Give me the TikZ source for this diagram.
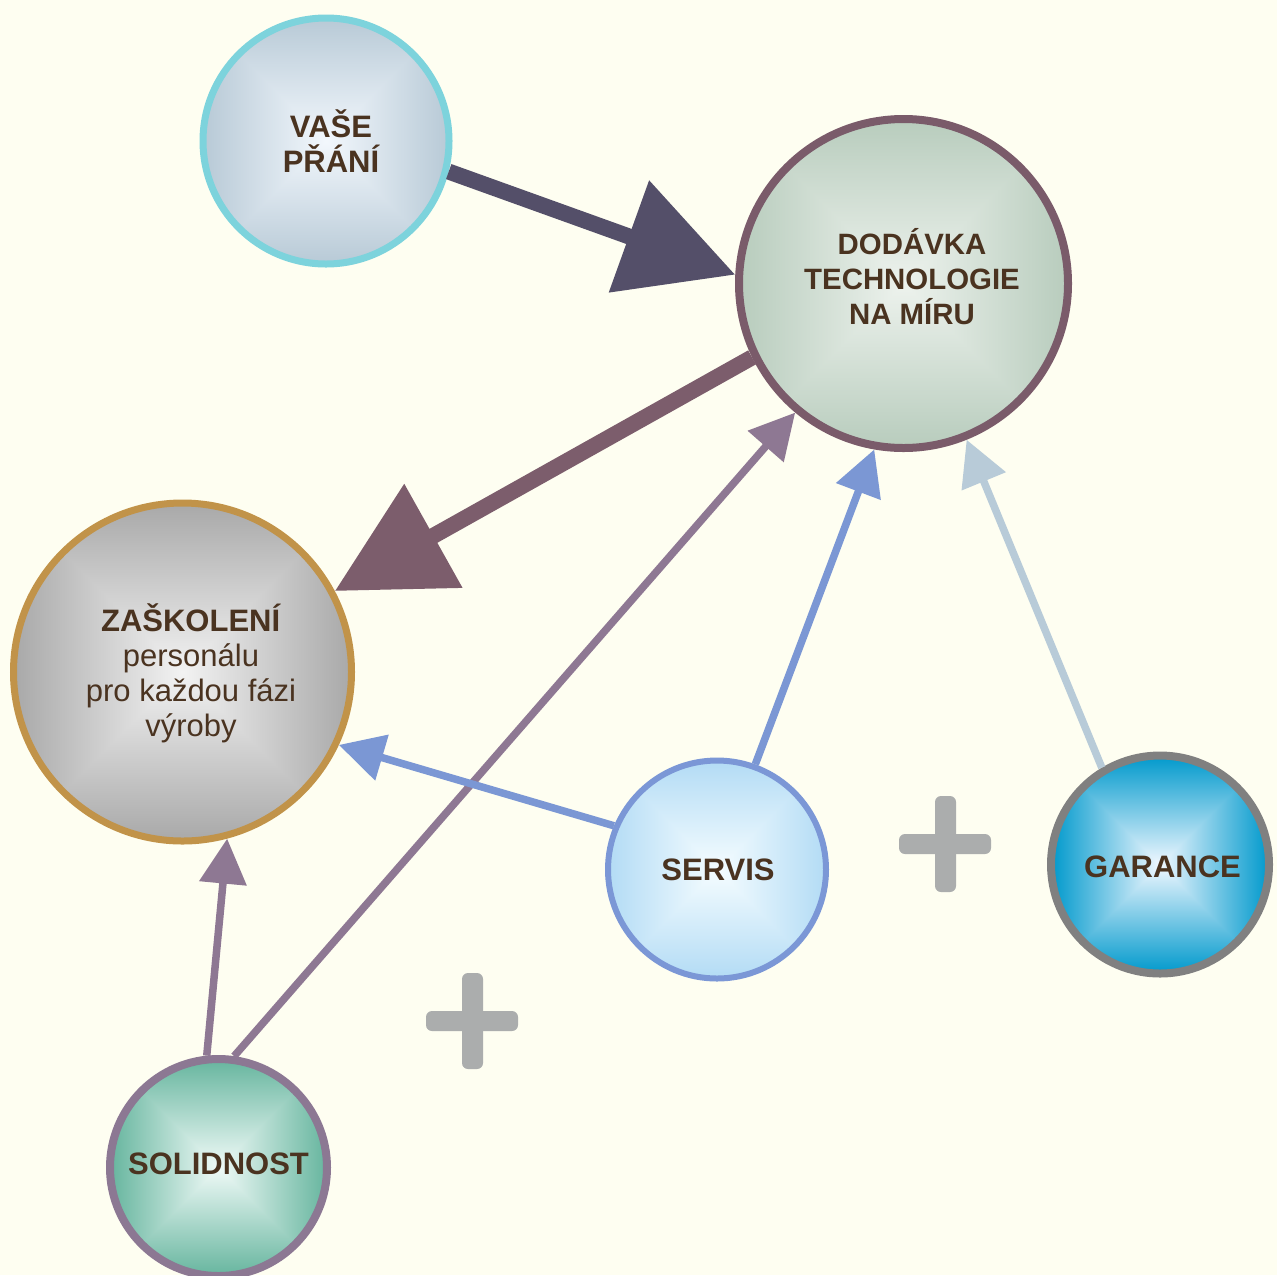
\documentclass[tikz,border=0pt]{standalone}
\usepackage{fontspec}
\setmainfont{Liberation Sans}
\usetikzlibrary{arrows.meta}
\definecolor{bg}{HTML}{FEFEF1}
\definecolor{txt}{HTML}{4A3320}
\definecolor{cVase}{HTML}{7DD3DC}
\definecolor{cDod}{HTML}{7A5B6A}
\definecolor{cZas}{HTML}{C19349}
\definecolor{cServ}{HTML}{7B97D6}
\definecolor{cGar}{HTML}{808080}
\definecolor{cSol}{HTML}{8C7893}
\definecolor{cAone}{HTML}{544F69}
\definecolor{cAtwo}{HTML}{7C5D6C}
\definecolor{cPurp}{HTML}{8E7893}
\definecolor{cBlue}{HTML}{7B97D4}
\definecolor{cLight}{HTML}{B8CBD8}
\definecolor{plusgray}{HTML}{ABADAD}
\newcommand{\mkboxshading}[7]{%
  \pgfdeclarefunctionalshading{#1}{\pgfpoint{-50bp}{-50bp}}{\pgfpoint{50bp}{50bp}}{}{%
    abs exch abs 2 copy lt {exch} if pop 25 div dup 1 gt {pop 1} if
    dup #5 mul #2 add exch dup #6 mul #3 add exch #7 mul #4 add}}
\mkboxshading{shVase}{0.95}{0.97}{0.99}{-0.23}{-0.18}{-0.15}
\mkboxshading{shDod}{0.93}{0.95}{0.93}{-0.21}{-0.15}{-0.19}
\mkboxshading{shZas}{0.95}{0.95}{0.95}{-0.29}{-0.29}{-0.29}
\mkboxshading{shServ}{0.96}{0.99}{1.0}{-0.26}{-0.13}{-0.04}
\mkboxshading{shGar}{0.94}{0.97}{1.0}{-0.94}{-0.37}{-0.20}
\mkboxshading{shSol}{0.94}{0.98}{0.97}{-0.54}{-0.27}{-0.35}
\begin{document}
\begin{tikzpicture}[x=0.5pt,y=-0.5pt,
  bubble/.style={circle, inner sep=0pt},
  lbl/.style={inner sep=0pt, align=center, text=txt,
    font=\fontsize{15.5pt}{17.5pt}\selectfont\bfseries},
  bigarrow/.style={line width=8pt, -{Triangle[length=56.5pt,width=57.5pt]}},
  smallarrow/.style={line width=3.75pt, -{Triangle[length=22.5pt,width=23pt]}},
  plusbar/.style={fill=plusgray, rounded corners=3pt}]
\fill[bg] (0,0) rectangle (1277,1275);
\useasboundingbox (0,0) rectangle (1277,1275);

\node[bubble, draw=cVase, line width=3.5pt, minimum size=123pt, shading=shVase] (vase) at (326,141) {};
\node[bubble, draw=cDod, line width=4pt, minimum size=164.5pt, shading=shDod] (dod) at (903.5,283.5) {};
\node[bubble, draw=cZas, line width=3.5pt, minimum size=169pt, shading=shZas] (zas) at (182.5,672) {};
\node[bubble, draw=cServ, line width=3pt, minimum size=109pt, shading=shServ] (servis) at (717,869.5) {};
\node[bubble, draw=cGar, line width=4pt, minimum size=109pt, shading=shGar] (gar) at (1160,864.5) {};
\node[bubble, draw=cSol, line width=4pt, minimum size=108.5pt, shading=shSol] (sol) at (218.5,1167.5) {};

\node[lbl] (vasetxt) at ([shift={(5,0)}]vase.center) {VAŠE\\PŘÁNÍ};
\node[lbl, font=\fontsize{14.7pt}{17.5pt}\selectfont\bfseries] (dodtxt) at ([shift={(8.5,-7)}]dod.center) {DODÁVKA\\TECHNOLOGIE\\NA MÍRU};
\node[lbl, font=\fontsize{15.5pt}{17.5pt}\selectfont] (zastxt) at ([shift={(8.5,1)}]zas.center) {\textbf{ZAŠKOLENÍ}\\personálu\\pro každou fázi\\výroby};
\node[lbl] (servistxt) at ([shift={(1,0)}]servis.center) {SERVIS};
\node[lbl] (gartxt) at ([shift={(2.5,2)}]gar.center) {GARANCE};
\node[lbl] (soltxt) at ([shift={(0,-4)}]sol.center) {SOLIDNOST};

\draw[bigarrow, cAone] (vase.-14.3) -- (dod.177.1);
\draw[bigarrow, cAtwo] (dod.206) -- (zas.28);
\draw[smallarrow, cPurp] (sol.82.7) -- (dod.230.2);
\draw[smallarrow, cPurp] (sol.96.3) -- (zas.-75.4);
\draw[smallarrow, cBlue] (servis.70.5) -- (dod.-100);
\draw[smallarrow, cBlue] (servis.157) -- (zas.-25);
\draw[smallarrow, cLight] (gar.121.5) -- (dod.-68.3);

\fill[plusbar] (935,796) rectangle (956,892);
\fill[plusbar] (899,834) rectangle (991,854);
\fill[plusbar] (462,973) rectangle (483,1069);
\fill[plusbar] (426,1011) rectangle (518,1031);
\end{tikzpicture}
\end{document}
